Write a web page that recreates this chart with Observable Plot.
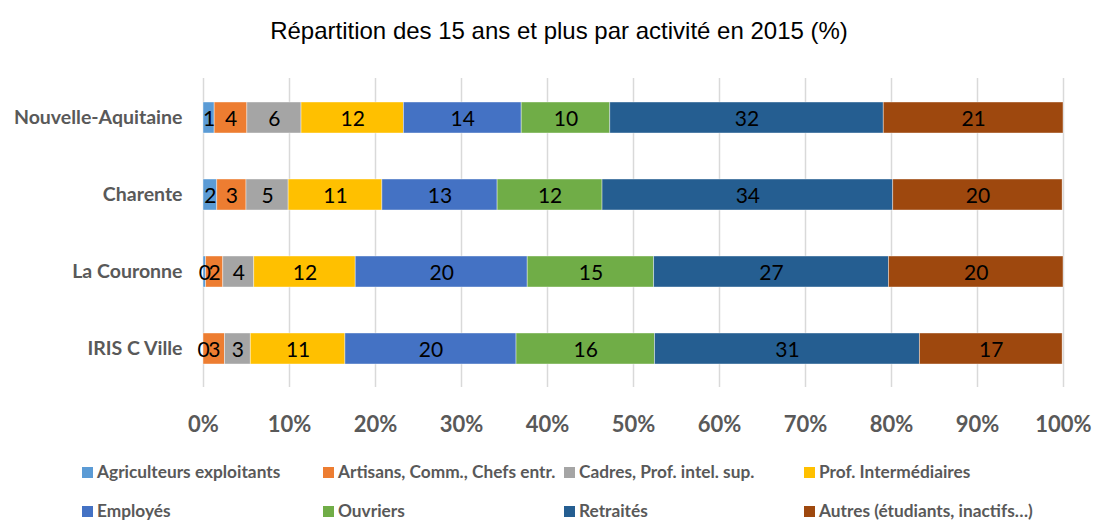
<!DOCTYPE html>
<html>
<head>
<meta charset="utf-8">
<script src="https://cdn.jsdelivr.net/npm/d3@7"></script>
<script src="https://cdn.jsdelivr.net/npm/@observablehq/plot@0.6"></script>
<style>
  html, body { margin: 0; padding: 0; background: #fff; }
  #wrap { position: relative; width: 1095px; height: 521px; overflow: hidden; }
  #title { position: absolute; left: 0; top: 17px; width: 1118px; text-align: center;
           font-family: "Liberation Sans", Arial, sans-serif; font-size: 24px; color: #000; line-height: 28px; }
  #chart { position: absolute; left: 0; top: 60px; }
  #legend { position: absolute; left: 0; top: 438px; width: 1095px; height: 83px; }
  .li { position: absolute; font-family: Lato, sans-serif; font-weight: bold; font-size: 17.3px;
        color: #595959; white-space: nowrap; line-height: 20px; }
  .sw { display: inline-block; width: 11px; height: 11px; margin-right: 4px; vertical-align: 0px; }
</style>
</head>
<body>
<div id="wrap">
  <div id="title">Répartition des 15 ans et plus par activité en 2015 (%)</div>
  <div id="chart"></div>
  <div id="legend"></div>
</div>
<script>
const regions = ["Nouvelle-Aquitaine", "Charente", "La Couronne", "IRIS C Ville"];
const categories = [
  "Agriculteurs exploitants",
  "Artisans, Comm., Chefs entr.",
  "Cadres, Prof. intel. sup.",
  "Prof. Intermédiaires",
  "Employés",
  "Ouvriers",
  "Retraités",
  "Autres (étudiants, inactifs…)"
];
const colors = ["#5b9bd5", "#ed7d31", "#a5a5a5", "#ffc000", "#4472c4", "#70ad47", "#255e91", "#9e480e"];

// values per category, in order of regions
const agriculteurs = [1.3, 1.6, 0.3, 0.0];
const artisans     = [3.8, 3.4, 2.0, 2.5];
const cadres       = [6.3, 4.9, 3.6, 3.0];
const profInter    = [11.9, 10.9, 11.8, 11.0];
const employes     = [13.7, 13.4, 20.0, 19.9];
const ouvriers     = [10.3, 12.2, 14.7, 16.1];
const retraites    = [31.8, 33.8, 27.3, 30.8];
const autres       = [20.9, 19.7, 20.3, 16.6];
const xTicks = [0, 10, 20, 30, 40, 50, 60, 70, 80, 90, 100];

const series = [agriculteurs, artisans, cadres, profInter, employes, ouvriers, retraites, autres];
const rows = [];
regions.forEach((r, i) => {
  categories.forEach((c, j) => {
    rows.push({region: r, cat: c, value: series[j][i]});
  });
});

const plot = Plot.plot({
  width: 1095,
  height: 378,
  marginLeft: 203,
  marginRight: 32,
  marginTop: 18,
  marginBottom: 51,
  style: {fontFamily: "Lato, sans-serif", background: "#fff"},
  x: {domain: [0, 100], ticks: xTicks, tickFormat: d => d + "%", label: null},
  y: {domain: regions, paddingInner: 0.6, paddingOuter: 0.3, label: null},
  color: {domain: categories, range: colors},
  marks: [
    Plot.gridX(xTicks, {stroke: "#d9d9d9", strokeOpacity: 1, strokeWidth: 1.5}),
    Plot.barX(rows, Plot.stackX({x: "value", y: "region", fill: "cat", z: "cat", order: null,
      stroke: "#ffffff", strokeOpacity: 0.5, strokeWidth: 0.8})),
    Plot.text(rows, Plot.stackX({x: "value", y: "region", z: "cat", order: null,
      text: d => String(Math.round(d.value)), fill: "#000", fontSize: 21, dy: 1, fontFamily: "Lato, sans-serif"})),
    Plot.axisX({ticks: xTicks, tickFormat: d => d + "%", tickSize: 0, tickPadding: 29, fontSize: 22,
      fontWeight: "bold", fill: "#595959", label: null}),
    Plot.axisY({tickSize: 0, tickPadding: 21, fontSize: 19.5, fontWeight: "bold", fill: "#595959", label: null})
  ]
});
document.getElementById("chart").appendChild(plot);

// legend (two rows x four columns)
const legend = document.getElementById("legend");
const colX = [82, 323, 564, 804];
const rowY = [24, 63];
categories.forEach((c, i) => {
  const el = document.createElement("div");
  el.className = "li";
  el.style.left = colX[i % 4] + "px";
  el.style.top = rowY[Math.floor(i / 4)] + "px";
  el.innerHTML = `<span class="sw" style="background:${colors[i]}"></span>${c}`;
  legend.appendChild(el);
});
</script>
</body>
</html>
